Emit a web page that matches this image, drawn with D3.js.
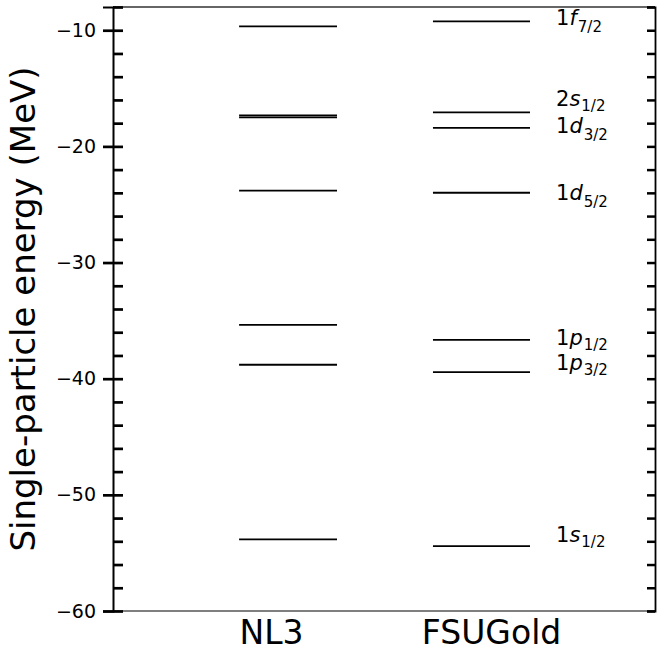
<!DOCTYPE html>
<html>
<head>
<meta charset="utf-8">
<script src="https://cdn.jsdelivr.net/npm/d3@7"></script>
<style>
  body { margin: 0; background: #fff; }
  text { font-family: "DejaVu Sans", sans-serif; }
</style>
</head>
<body>
<div id="chart"></div>
<script>
// single-particle levels (MeV)
const models = ['NL3', 'FSUGold'];
const modelTicks = [1, 2];
const modelSpans = [[0.855, 1.3], [1.736, 2.177]];
const nl3Levels = [-9.66, -17.33, -17.50, -23.81, -35.36, -38.80, -53.84];
const fsuLevels = [-9.23, -17.07, -18.40, -23.99, -36.65, -39.43, -54.42];

// orbital labels next to the FSUGold column
const orbitN = ['1', '2', '1', '1', '1', '1', '1'];
const orbitL = ['f', 's', 'd', 'd', 'p', 'p', 's'];
const orbitJ = ['7/2', '1/2', '3/2', '5/2', '1/2', '3/2', '1/2'];
const orbitLabelY = [-9.57, -16.56, -18.85, -24.61, -37.08, -39.23, -54.10];

const yMajor = [-60, -50, -40, -30, -20, -10];
const yMinor = d3.range(-60, -7, 2);

const width = 657;
const height = 652;
const margin = { top: 7, right: 2, bottom: 41, left: 113 };

const svg = d3.select('#chart')
  .append('svg')
  .attr('width', width)
  .attr('height', height);

const x = d3.scaleLinear()
  .domain([0.282, 2.745])
  .range([margin.left, width - margin.right]);

const y = d3.scaleLinear()
  .domain([-60, -8])
  .range([height - margin.bottom, margin.top]);

// levels
const series = [nl3Levels, fsuLevels];
series.forEach((levels, i) => {
  svg.append('g')
    .selectAll('line')
    .data(levels)
    .enter()
    .append('line')
    .attr('x1', x(modelSpans[i][0]))
    .attr('x2', x(modelSpans[i][1]))
    .attr('y1', d => y(d))
    .attr('y2', d => y(d))
    .attr('stroke', '#000')
    .attr('stroke-width', 1.8);
});

// spines
svg.append('line')
  .attr('x1', x.range()[0]).attr('x2', x.range()[1])
  .attr('y1', y(-8)).attr('y2', y(-8))
  .attr('stroke', '#333').attr('stroke-width', 1.5);
svg.append('line')
  .attr('x1', x.range()[0]).attr('x2', x.range()[1])
  .attr('y1', y(-60)).attr('y2', y(-60))
  .attr('stroke', '#000').attr('stroke-width', 1.2);

// left axis: major ticks go outward with labels, every tick also goes inward
const leftOut = svg.append('g')
  .attr('transform', `translate(${x.range()[0]},0)`)
  .call(d3.axisLeft(y).tickValues(yMajor).tickSize(10).tickPadding(7)
    .tickFormat(d => '\u2212' + Math.abs(d)));
leftOut.select('.domain').attr('stroke-width', 2);
leftOut.selectAll('.tick line').attr('stroke-width', 2.7);
leftOut.selectAll('text').style('font-size', '19px').attr('fill', '#000');

const leftIn = svg.append('g')
  .attr('transform', `translate(${x.range()[0]},0)`)
  .call(d3.axisRight(y).tickValues(yMinor).tickSize(10).tickFormat(''));
leftIn.select('.domain').remove();
leftIn.selectAll('.tick line').attr('stroke-width', 2.7);

// right axis: inward ticks only
const right = svg.append('g')
  .attr('transform', `translate(${x.range()[1]},0)`)
  .call(d3.axisLeft(y).tickValues(yMinor).tickSize(8).tickFormat(''));
right.select('.domain').attr('stroke-width', 1.8);
right.selectAll('.tick line').attr('stroke-width', 2.5);

// bottom labels
const bottom = svg.append('g')
  .attr('transform', `translate(0,${y(-60)})`)
  .call(d3.axisBottom(x).tickValues(modelTicks).tickSize(0).tickPadding(10)
    .tickFormat((d, i) => models[i]));
bottom.select('.domain').remove();
bottom.selectAll('text').style('font-size', '33px').attr('fill', '#000');

// orbital labels
const lab = svg.append('g')
  .selectAll('text')
  .data(orbitLabelY)
  .enter()
  .append('text')
  .attr('x', 556)
  .attr('y', d => y(d))
  .style('font-size', '21px')
  .attr('fill', '#000');
lab.append('tspan').text((d, i) => orbitN[i]);
lab.append('tspan').style('font-style', 'italic').text((d, i) => orbitL[i]);
lab.append('tspan')
  .attr('dx', 1)
  .attr('dy', (d, i) => orbitL[i] === 'd' || orbitL[i] === 'f' ? 7 : 5)
  .style('font-size', '15px')
  .text((d, i) => orbitJ[i]);

// y title
svg.append('text')
  .attr('transform', `translate(35,${(y(-8) + y(-60)) / 2}) rotate(-90)`)
  .attr('text-anchor', 'middle')
  .style('font-size', '34px')
  .text('Single-particle energy (MeV)');
</script>
</body>
</html>
